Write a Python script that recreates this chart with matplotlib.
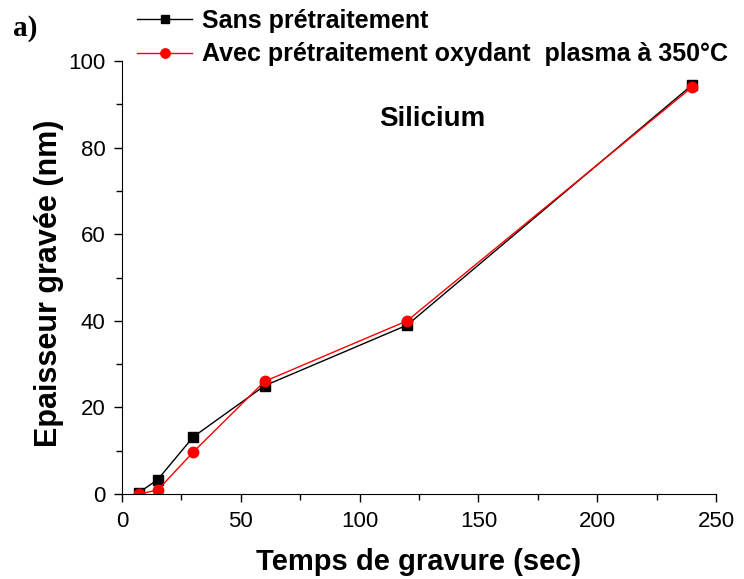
import matplotlib
matplotlib.use("Agg")
import matplotlib.pyplot as plt
from matplotlib.ticker import MultipleLocator

# Epaisseur gravée du silicium en fonction du temps de gravure
temps = [7, 15, 30, 60, 120, 240]
sans_pretraitement = [0.3, 3.3, 13.2, 25.0, 39.0, 94.5]
avec_pretraitement = [0.0, 0.9, 9.7, 26.0, 40.0, 94.0]

plt.rcParams["font.family"] = ["Liberation Sans", "DejaVu Sans"]

fig = plt.figure(figsize=(7.44, 5.79), dpi=100)
ax = fig.add_axes([122 / 744, 85 / 579, 594 / 744, 433 / 579])

ax.plot(temps, sans_pretraitement, color="black", lw=1, marker="s", ms=6.5,
        label="Sans prétraitement")
ax.plot(temps, avec_pretraitement, color="red", lw=1, marker="o", ms=7.5,
        label="Avec prétraitement oxydant  plasma à 350°C")

ax.set_xlim(0, 250)
ax.set_ylim(0, 100)
ax.xaxis.set_major_locator(MultipleLocator(50))
ax.xaxis.set_minor_locator(MultipleLocator(25))
ax.yaxis.set_major_locator(MultipleLocator(20))
ax.yaxis.set_minor_locator(MultipleLocator(10))
ax.tick_params(which="major", direction="out", length=6, width=1,
               labelsize=16, pad=6)
ax.tick_params(which="minor", direction="out", length=4, width=1)

ax.spines["top"].set_visible(False)
ax.spines["right"].set_visible(False)

ax.set_xlabel("Temps de gravure (sec)", fontsize=21, fontweight="bold", labelpad=12)
ax.set_ylabel("Epaisseur gravée (nm)", fontsize=22, fontweight="bold")
ax.yaxis.set_label_coords(-0.098, 0.487)

ax.text(130.7, 86.6, "Silicium", fontsize=20, fontweight="bold",
        ha="center", va="center")

fig.text(13 / 744, 1 - 29 / 579, "a)", fontsize=21, fontweight="bold",
         family=["Liberation Serif"], va="center")

fig.legend(loc="upper left", bbox_to_anchor=(137 / 744, 1 - 9 / 579),
           frameon=False, prop={"weight": "bold", "size": 18},
           handlelength=2.2, handletextpad=0.4, labelspacing=0.38,
           borderaxespad=0, borderpad=0, markerscale=0.9)

fig.savefig("out.png", dpi=100)
